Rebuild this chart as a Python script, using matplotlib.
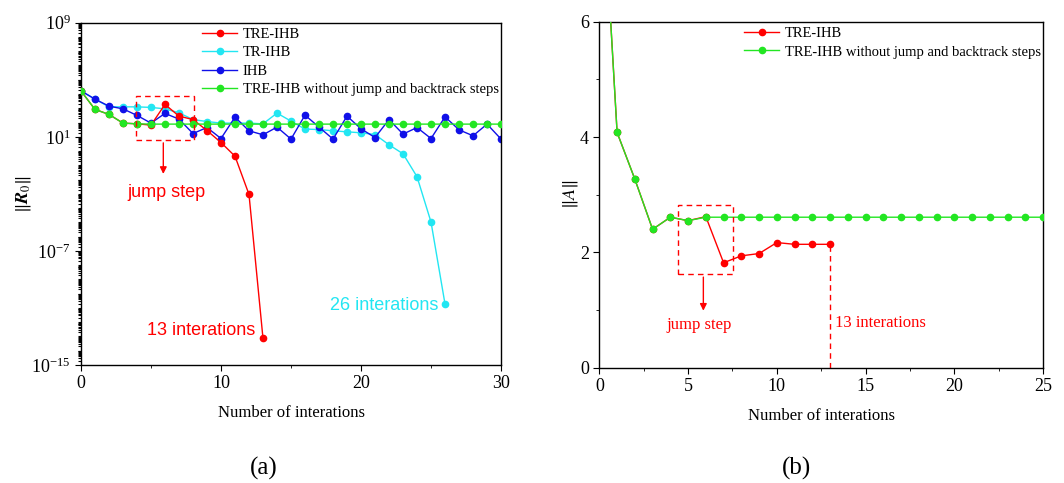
import matplotlib
matplotlib.use('Agg')
import matplotlib.pyplot as plt
from matplotlib.ticker import LogLocator, FixedLocator, MultipleLocator, NullFormatter
from matplotlib.patches import Rectangle
import numpy as np

plt.rcParams['font.family'] = ['Liberation Serif', 'DejaVu Serif']
plt.rcParams['mathtext.fontset'] = 'stix'

RED = '#FF0000'
CYAN = '#22E6F2'
BLUE = '#1010E8'
GREEN = '#22E622'

# ---- panel (a): residual norm, log10 values ----
iters_a = list(range(31))
tre_ihb_x = list(range(14))
tre_ihb_log = [4.22, 2.92, 2.57, 1.96, 1.91, 1.82, 3.27, 2.45, 2.21, 1.44, 0.60, -0.36, -3.04, -13.14]
tr_ihb_x = list(range(27))
tr_ihb_log = [4.22, 3.64, 3.10, 3.10, 3.10, 3.06, 2.96, 2.68, 2.21, 2.07, 1.96, 1.96, 1.96, 1.91,
              2.66, 2.10, 1.54, 1.51, 1.42, 1.35, 1.28, 1.16, 0.44, -0.19, -1.80, -4.98, -10.73]
ihb_log = [4.22, 3.64, 3.15, 2.96, 2.50, 1.96, 2.64, 2.24, 1.23, 1.65, 0.88, 2.38, 1.42, 1.14,
           1.68, 0.84, 2.52, 1.68, 0.84, 2.45, 1.56, 0.95, 2.21, 1.19, 1.65, 0.88, 2.40, 1.49,
           1.07, 1.89, 0.84]
nojump_log = [4.22, 2.92, 2.57, 1.96, 1.91] + [1.89] * 26

# ---- panel (b): ||A|| ----
iters_b = list(range(26))
tre_b_x = list(range(14))
tre_b = [9.4, 4.08, 3.27, 2.40, 2.61, 2.55, 2.62, 1.82, 1.94, 1.98, 2.17, 2.14, 2.14, 2.14]
nojump_b = [9.4, 4.08, 3.27, 2.40, 2.61, 2.55] + [2.61] * 20

fig = plt.figure(figsize=(10.64, 4.83), dpi=100)
ax1 = fig.add_axes([0.0761, 0.2443, 0.3948, 0.7087])
ax2 = fig.add_axes([0.5633, 0.2387, 0.4170, 0.7163])

lw, ms = 1.0, 4.5


def style_axis(ax):
    for s in ax.spines.values():
        s.set_linewidth(1.0)
        s.set_color('black')
    ax.tick_params(which='both', direction='out', top=False, right=False, labelsize=13)
    ax.tick_params(which='major', length=4)
    ax.tick_params(which='minor', length=2.5)
    ax.set_xlabel('Number of interations', fontsize=12, labelpad=9)


# panel (a)
ax1.plot(tre_ihb_x, 10.0 ** np.array(tre_ihb_log), '-o', color=RED, lw=lw, ms=ms, label='TRE-IHB', zorder=3)
ax1.plot(tr_ihb_x, 10.0 ** np.array(tr_ihb_log), '-o', color=CYAN, lw=lw, ms=ms, label='TR-IHB', zorder=2)
ax1.plot(iters_a, 10.0 ** np.array(ihb_log), '-o', color=BLUE, lw=lw, ms=ms, label='IHB', zorder=2)
ax1.plot(iters_a, 10.0 ** np.array(nojump_log), '-o', color=GREEN, lw=lw, ms=ms,
         label='TRE-IHB without jump and backtrack steps', zorder=4)
ax1.set_yscale('log')
ax1.set_xlim(0, 30)
ax1.set_ylim(1e-15, 1e9)
ax1.yaxis.set_major_locator(FixedLocator([1e-15, 1e-7, 1e1, 1e9]))
ax1.yaxis.set_minor_locator(LogLocator(base=10, subs=np.arange(1, 10), numticks=200))
ax1.yaxis.set_minor_formatter(NullFormatter())
ax1.xaxis.set_major_locator(MultipleLocator(10))
ax1.xaxis.set_minor_locator(MultipleLocator(5))
style_axis(ax1)
ax1.tick_params(axis='y', which='minor', length=2.5, width=0.8)
ax1.set_ylabel(r'$\|\boldsymbol{R}_0\|$', fontsize=13, labelpad=-1)
ax1.legend(loc='upper right', frameon=False, fontsize=10.5, handlelength=2.4,
           borderaxespad=0.0, borderpad=0.15, labelspacing=0.35, handletextpad=0.4,
           bbox_to_anchor=(1.0, 0.991))

ax1.add_patch(Rectangle((3.9, 10 ** 0.77), 8.05 - 3.9, 10 ** 3.87 - 10 ** 0.77, fill=False,
                        ec=RED, ls=(0, (4, 3)), lw=1.0, zorder=5))
ax1.annotate('', xy=(5.88, 10 ** -1.8), xytext=(5.88, 10 ** 0.77),
             arrowprops=dict(arrowstyle='-|>', color=RED, lw=1.0, mutation_scale=10))
ax1.text(6.1, 10 ** -2.9, 'jump step', color=RED, fontsize=13, family='Liberation Sans',
         ha='center', va='center')
ax1.text(12.45, 10 ** -12.55, '13 interations', color=RED, fontsize=13, family='Liberation Sans',
         ha='right', va='center')
ax1.text(25.5, 10 ** -10.8, '26 interations', color=CYAN, fontsize=13, family='Liberation Sans',
         ha='right', va='center')

# panel (b)
ax2.plot(tre_b_x, tre_b, '-o', color=RED, lw=lw, ms=ms, label='TRE-IHB', zorder=3)
ax2.plot(iters_b, nojump_b, '-o', color=GREEN, lw=lw, ms=ms,
         label='TRE-IHB without jump and backtrack steps', zorder=4)
ax2.set_xlim(0, 25)
ax2.set_ylim(0, 6)
ax2.xaxis.set_major_locator(MultipleLocator(5))
ax2.xaxis.set_minor_locator(MultipleLocator(2.5))
ax2.yaxis.set_major_locator(MultipleLocator(2))
ax2.yaxis.set_minor_locator(MultipleLocator(1))
style_axis(ax2)
ax2.set_ylabel(r'$\|A\|$', fontsize=13, labelpad=0)
ax2.legend(loc='upper right', frameon=False, fontsize=10.5, handlelength=2.4,
           borderaxespad=0.0, borderpad=0.15, labelspacing=0.35, handletextpad=0.4,
           bbox_to_anchor=(1.0, 0.991))

ax2.add_patch(Rectangle((4.45, 1.62), 7.55 - 4.45, 2.83 - 1.62, fill=False,
                        ec=RED, ls=(0, (4, 3)), lw=1.0, zorder=5))
ax2.annotate('', xy=(5.86, 0.94), xytext=(5.86, 1.62),
             arrowprops=dict(arrowstyle='-|>', color=RED, lw=1.0, mutation_scale=10))
ax2.plot([13, 13], [0, 2.14], color=RED, ls=(0, (4, 3)), lw=1.0)
ax2.text(5.65, 0.74, 'jump step', color=RED, fontsize=12, ha='center', va='center')
ax2.text(13.3, 0.78, '13 interations', color=RED, fontsize=12, ha='left', va='center')

fig.text(0.248, 0.03, '(a)', fontsize=18, ha='center', va='center')
fig.text(0.749, 0.03, '(b)', fontsize=18, ha='center', va='center')

fig.savefig('out.png', dpi=100)
